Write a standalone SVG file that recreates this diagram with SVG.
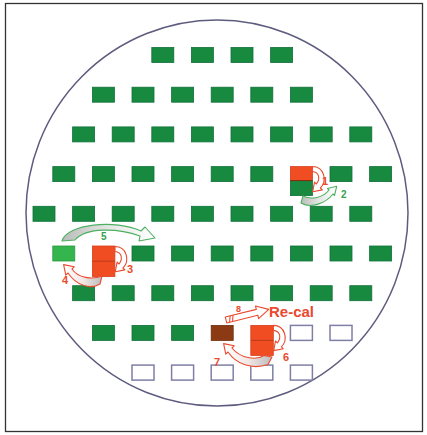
<svg xmlns="http://www.w3.org/2000/svg" width="427" height="435" viewBox="0 0 427 435">
<style>
.g{fill:#178a40;stroke:#11703a;stroke-width:0.8}
.lg{fill:#35b54d;stroke:#2a9a40;stroke-width:0.8}
.r{fill:#f14d23;stroke:#d8401c;stroke-width:0.8}
.b{fill:#8b3a14;stroke:#6e2c0e;stroke-width:0.8}
.o{fill:#fff;stroke:#7f7fa6;stroke-width:1.5}
.div{stroke:#8a2a10;stroke-width:1}
.ar{stroke:#ea4a2e;stroke-width:1.1;stroke-linejoin:round}
.ag{stroke:#4cb060;stroke-width:1.1;stroke-linejoin:round}
.tr{font-family:"Liberation Sans",Arial,sans-serif;font-weight:bold;fill:#ea4a2e}
.tg{font-family:"Liberation Sans",Arial,sans-serif;font-weight:bold;fill:#3a9e4c}
</style>
<defs>
<linearGradient id="gl" x1="0" y1="0" x2="1" y2="0"><stop offset="0" stop-color="#b9bdb9"/><stop offset="0.5" stop-color="#e4e6e4"/><stop offset="1" stop-color="#fff"/></linearGradient>
<linearGradient id="gr" x1="1" y1="0" x2="0" y2="0"><stop offset="0" stop-color="#bcbcbc"/><stop offset="0.5" stop-color="#f2e8e6"/><stop offset="1" stop-color="#fff"/></linearGradient>
</defs>
<rect x="5.5" y="3.5" width="417" height="428" fill="#fff" stroke="#333" stroke-width="1.3"/>
<ellipse cx="217" cy="213" rx="191" ry="193" fill="none" stroke="#5e5c7e" stroke-width="1.5"/>
<g id="row1">
<g id="n1_3"><rect class="g" x="151.8" y="47.5" width="22" height="15"/></g>
<g id="n1_4"><rect class="g" x="191.4" y="47.5" width="22" height="15"/></g>
<g id="n1_5"><rect class="g" x="231" y="47.5" width="22" height="15"/></g>
<g id="n1_6"><rect class="g" x="270.6" y="47.5" width="22" height="15"/></g>
</g>
<g id="row2">
<g id="n2_1"><rect class="g" x="92.4" y="87.2" width="22" height="15"/></g>
<g id="n2_2"><rect class="g" x="132" y="87.2" width="22" height="15"/></g>
<g id="n2_3"><rect class="g" x="171.6" y="87.2" width="22" height="15"/></g>
<g id="n2_4"><rect class="g" x="211.2" y="87.2" width="22" height="15"/></g>
<g id="n2_5"><rect class="g" x="250.8" y="87.2" width="22" height="15"/></g>
<g id="n2_6"><rect class="g" x="290.4" y="87.2" width="22" height="15"/></g>
</g>
<g id="row3">
<g id="n3_1"><rect class="g" x="72.6" y="126.9" width="22" height="15"/></g>
<g id="n3_2"><rect class="g" x="112.2" y="126.9" width="22" height="15"/></g>
<g id="n3_3"><rect class="g" x="151.8" y="126.9" width="22" height="15"/></g>
<g id="n3_4"><rect class="g" x="191.4" y="126.9" width="22" height="15"/></g>
<g id="n3_5"><rect class="g" x="231" y="126.9" width="22" height="15"/></g>
<g id="n3_6"><rect class="g" x="270.6" y="126.9" width="22" height="15"/></g>
<g id="n3_7"><rect class="g" x="310.2" y="126.9" width="22" height="15"/></g>
<g id="n3_8"><rect class="g" x="349.8" y="126.9" width="22" height="15"/></g>
</g>
<g id="row4">
<g id="n4_0"><rect class="g" x="52.8" y="166.6" width="22" height="15"/></g>
<g id="n4_1"><rect class="g" x="92.4" y="166.6" width="22" height="15"/></g>
<g id="n4_2"><rect class="g" x="132" y="166.6" width="22" height="15"/></g>
<g id="n4_3"><rect class="g" x="171.6" y="166.6" width="22" height="15"/></g>
<g id="n4_4"><rect class="g" x="211.2" y="166.6" width="22" height="15"/></g>
<g id="n4_5"><rect class="g" x="250.8" y="166.6" width="22" height="15"/></g>
<g id="n4_6"><rect class="r" x="290.4" y="166.6" width="22" height="14"/><rect class="g" x="290.4" y="180.6" width="22" height="15"/><line class="div" x1="290.4" y1="180.6" x2="312.4" y2="180.6"/></g>
<g id="n4_7"><rect class="g" x="330" y="166.6" width="22" height="15"/></g>
<g id="n4_8"><rect class="g" x="369.6" y="166.6" width="22" height="15"/></g>
</g>
<g id="row5">
<g id="n5_0"><rect class="g" x="33" y="206.3" width="22" height="15"/></g>
<g id="n5_1"><rect class="g" x="72.6" y="206.3" width="22" height="15"/></g>
<g id="n5_2"><rect class="g" x="112.2" y="206.3" width="22" height="15"/></g>
<g id="n5_3"><rect class="g" x="151.8" y="206.3" width="22" height="15"/></g>
<g id="n5_4"><rect class="g" x="191.4" y="206.3" width="22" height="15"/></g>
<g id="n5_5"><rect class="g" x="231" y="206.3" width="22" height="15"/></g>
<g id="n5_6"><rect class="g" x="270.6" y="206.3" width="22" height="15"/></g>
<g id="n5_7"><rect class="g" x="310.2" y="206.3" width="22" height="15"/></g>
<g id="n5_8"><rect class="g" x="349.8" y="206.3" width="22" height="15"/></g>
</g>
<g id="row6">
<g id="n6_0"><rect class="lg" x="52.8" y="246" width="22" height="15"/></g>
<g id="n6_1"><rect class="r" x="92.4" y="246" width="22.5" height="30.5"/><line class="div" x1="92.4" y1="261.2" x2="114.9" y2="261.2" stroke-opacity="0.5"/></g>
<g id="n6_2"><rect class="g" x="132" y="246" width="22" height="15"/></g>
<g id="n6_3"><rect class="g" x="171.6" y="246" width="22" height="15"/></g>
<g id="n6_4"><rect class="g" x="211.2" y="246" width="22" height="15"/></g>
<g id="n6_5"><rect class="g" x="250.8" y="246" width="22" height="15"/></g>
<g id="n6_6"><rect class="g" x="290.4" y="246" width="22" height="15"/></g>
<g id="n6_7"><rect class="g" x="330" y="246" width="22" height="15"/></g>
<g id="n6_8"><rect class="g" x="369.6" y="246" width="22" height="15"/></g>
</g>
<g id="row7">
<g id="n7_1"><rect class="g" x="72.6" y="285.7" width="22" height="15"/></g>
<g id="n7_2"><rect class="g" x="112.2" y="285.7" width="22" height="15"/></g>
<g id="n7_3"><rect class="g" x="151.8" y="285.7" width="22" height="15"/></g>
<g id="n7_4"><rect class="g" x="191.4" y="285.7" width="22" height="15"/></g>
<g id="n7_5"><rect class="g" x="231" y="285.7" width="22" height="15"/></g>
<g id="n7_6"><rect class="g" x="270.6" y="285.7" width="22" height="15"/></g>
<g id="n7_7"><rect class="g" x="310.2" y="285.7" width="22" height="15"/></g>
<g id="n7_8"><rect class="g" x="349.8" y="285.7" width="22" height="15"/></g>
</g>
<g id="row8">
<g id="n8_1"><rect class="g" x="92.4" y="325.4" width="22" height="15"/></g>
<g id="n8_2"><rect class="g" x="132" y="325.4" width="22" height="15"/></g>
<g id="n8_3"><rect class="g" x="171.6" y="325.4" width="22" height="15"/></g>
<g id="n8_4"><rect class="b" x="211.2" y="325.4" width="22" height="15"/></g>
<g id="n8_5"><rect class="r" x="250.8" y="325.4" width="22.5" height="30"/><line class="div" x1="250.8" y1="340.4" x2="273.3" y2="340.4" stroke-opacity="0.5"/></g>
<g id="n8_6"><rect class="o" x="290.4" y="325.4" width="22" height="15"/></g>
<g id="n8_7"><rect class="o" x="330" y="325.4" width="22" height="15"/></g>
</g>
<g id="row9">
<g id="n9_2"><rect class="o" x="132" y="365.1" width="22" height="15"/></g>
<g id="n9_3"><rect class="o" x="171.6" y="365.1" width="22" height="15"/></g>
<g id="n9_4"><rect class="o" x="211.2" y="365.1" width="22" height="15"/></g>
<g id="n9_5"><rect class="o" x="250.8" y="365.1" width="22" height="15"/></g>
<g id="n9_6"><rect class="o" x="290.4" y="365.1" width="22" height="15"/></g>
</g>
<g id="connectors">
<path id="a1" class="ar" fill="#fff" transform="translate(197.4,-80)" d="M115,246.5 C127,246.5 130,261 123,268 L124.9,269.9 L115.3,271.7 L117.1,262.1 L119,264 C123,259 122,252 115,251.5 Z"/>
<path id="a2" class="ag" fill="url(#gl)" d="M303,196 L301,203 C311,209 326,203 333,194 L334.5,195.5 L336.7,186.3 L327.5,188.5 L329,190 C323,198 311,200 303,196 Z"/>
<path id="a3" class="ar" fill="#fff" d="M115,246.5 C127,246.5 130,261 123,268 L124.9,269.9 L115.3,271.7 L117.1,262.1 L119,264 C123,259 122,252 115,251.5 Z"/>
<path id="a4" class="ar" fill="url(#gr)" d="M102,276 L100,284 C90,290 76,285 68,273 L65.8,275.2 L63.6,264.6 L74.2,266.8 L72,269 C78,278 92,280 102,276 Z"/>
<path id="a5" class="ag" fill="url(#gl)" d="M62,241 C67,224 115,219 141,231 L145,227 L155,238 L139,241 L140,236 C118,228 86,227 75,240 Z"/>
<path id="a6" class="ar" fill="#fff" transform="translate(158.4,78.9)" d="M115,246.5 C127,246.5 130,261 123,268 L124.9,269.9 L115.3,271.7 L117.1,262.1 L119,264 C123,259 122,252 115,251.5 Z"/>
<path id="a7" class="ar" fill="url(#gr)" d="M272,357 L268,364.5 C252,370 236,364 228,352 L225.8,354.2 L223.6,343.6 L234.2,345.8 L232,348 C240,358 256,361 264,355.5 Z"/>
<g id="a8" transform="rotate(-14 226 320)">
<path class="ar" fill="#fff" d="M226,317 L258,317 L258,313.5 L270,320 L258,326.5 L258,323 L226,323 Z"/>
<path class="ar" fill="none" d="M229,323 L231,317 M232,323 L234,317"/>
</g>
</g>
<g id="labels">
<text class="tr" x="322" y="185" font-size="11">1</text>
<text class="tg" x="341" y="198" font-size="10">2</text>
<text class="tr" x="127" y="273" font-size="11">3</text>
<text class="tr" x="62" y="284" font-size="11">4</text>
<text class="tg" x="101" y="240" font-size="10">5</text>
<text class="tr" x="283" y="361" font-size="11">6</text>
<text class="tr" x="214" y="366" font-size="11">7</text>
<text class="tr" x="236" y="312" font-size="9">8</text>
<text class="tr" x="269" y="317" font-size="15">Re-cal</text>
</g>
</svg>
